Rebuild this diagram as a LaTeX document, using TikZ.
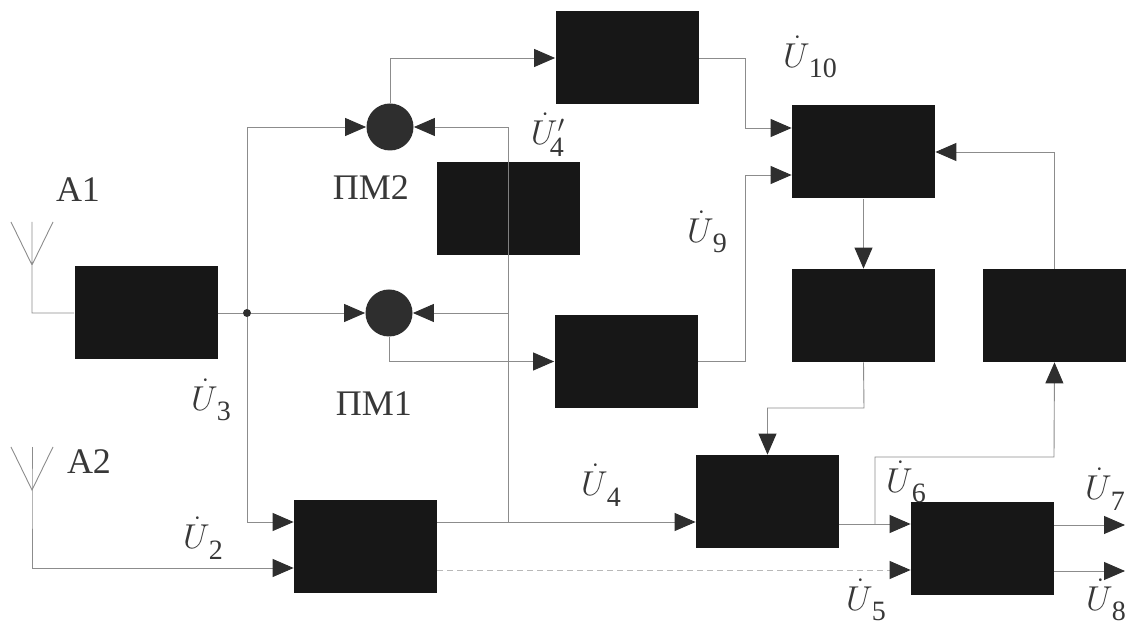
\documentclass[tikz,border=0pt]{standalone}
\usepackage{fontspec}
\setmainfont{Liberation Serif}
\usetikzlibrary{arrows.meta}
\definecolor{ink}{HTML}{171717}
\definecolor{wire}{HTML}{8C8C8C}
\definecolor{tipc}{HTML}{2E2E2E}
\newcommand{\Ud}[1]{$\dot{U}$\kern-.03em\raisebox{-.3em}{\fontsize{14}{15}\selectfont #1}}
\tikzset{
  blk/.style={draw=none,fill=ink,inner sep=0pt,minimum width=71.5pt,minimum height=46.5pt},
  mix/.style={circle,fill=tipc,draw=none,inner sep=0pt,minimum size=23.5pt},
  wr/.style={draw=wire,line width=.45pt},
  fl/.style={wr,-{Triangle[length=10.5pt,width=9pt,color=tipc]}},
  lab/.style={font=\fontsize{18}{20}\selectfont,text=black!78,inner sep=0pt},
  ghost/.style={draw=black!50,line width=.4pt},
  jdot/.style={circle,fill=tipc,draw=none,inner sep=0pt,minimum size=4pt},
}
\begin{document}
\begin{tikzpicture}[x=.5pt,y=-.5pt]
\useasboundingbox[fill=white] (0,0) rectangle (1132,625);
% blocks
\node[blk] (inA) at (146,313) {};
\node[blk] (top) at (627,58) {};
\node[blk] (cen) at (508.5,209) {};
\node[blk] (low) at (626,361.5) {};
\node[blk] (rtop) at (863.5,152) {};
\node[blk] (rmid) at (863.5,315.5) {};
\node[blk] (far) at (1054.5,315.5) {};
\node[blk] (bmid) at (767.5,501.5) {};
\node[blk] (brt) at (982.5,548.5) {};
\node[blk] (blf) at (365.5,546.5) {};
\node[mix] (pm2) at (390,127) {};
\node[mix] (pm1) at (389,313) {};
% junctions and free ends
\node[jdot] (j1) at (247,313) {};
\coordinate (j2) at (247,127);
\coordinate (j3) at (247,522);
\coordinate (k0) at (508,522);
\coordinate (k1) at (508,313);
\coordinate (k2) at (508,127);
\coordinate (m0) at (875,524);
\coordinate (o7) at (1125,525);
\coordinate (o8) at (1125,571);
% antennas
\coordinate (a1v) at (32,265);
\coordinate (a1t) at (32,222);
\coordinate (a1l) at (11,222);
\coordinate (a1r) at (53,222);
\coordinate (a2v) at (32,490);
\coordinate (a2t) at (32,447);
\coordinate (a2l) at (11,447);
\coordinate (a2r) at (53,447);
\draw[wr] (a1l) -- (a1v) -- (a1r) (a1t) -- (a1v) |- (inA.west);
\draw[fl] (a2t) -- (a2v) |- (blf.west |- 0,568);
\draw[wr] (a2l) -- (a2v) -- (a2r);
% left bus
\draw[wr] (inA.east) -- (j1);
\draw[fl] (j1) -- (pm1.west);
\draw[fl] (j1) -- (j3) -- (blf.west |- j3);
\draw[fl] (j1) -- (j2) -- (pm2.west);
% second bus
\draw[fl] (blf.east |- k0) -- (bmid.west |- k0);
\draw[wr] (k0) -- (cen.south -| k0);
\draw[fl] (cen.north -| k2) -- (k2) -- (pm2.east);
\draw[fl] (k1) -- (pm1.east);
\draw[ghost] (cen.south -| k0) -- (cen.north -| k0);
% mixers to filters
\draw[fl] (pm2.north) |- (top.west);
\draw[fl] (pm1.south) |- (low.west);
% filters to right top block
\draw[fl] (top.east) -- (745,58) |- (rtop.west |- 0,128);
\draw[fl] (low.east) -- (745,361.5) |- (rtop.west |- 0,175);
% feedback
\draw[fl] (far.north) |- (rtop.east);
\draw[fl] (rtop.south) -- (rmid.north);
\draw[fl] (rmid.south) -- (864,408) -| (bmid.north);
% bottom
\draw[fl] (bmid.east |- m0) -- (brt.west |- m0);
\draw[fl] (m0) |- (1054,457) -- (far.south);
\draw[fl,densely dashed,draw=black!28] (blf.east |- 0,570) -- (brt.west |- 0,570);
\draw[fl] (brt.east |- o7) -- (o7);
\draw[fl] (brt.east |- o8) -- (o8);
% labels
\node[lab] (tA1) at (78,190) {A1};
\node[lab] (tA2) at (89,462) {A2};
\node[lab] (tP2) at (371,188) {ПМ2};
\node[lab] (tP1) at (374,404) {ПМ1};
\node[lab] (u3) at (211,400) {\Ud{3}};
\node[lab] (u2) at (203,538) {\Ud{2}};
\node[lab] (u4) at (601,485) {\Ud{4}};
\node[lab] (u4p) at (548,135) {$\dot{U}'_{\!\raisebox{-.1em}{\fontsize{14}{15}\selectfont 4}}$};
\node[lab] (u9) at (707,232) {\Ud{9}};
\node[lab] (u10) at (810,57) {\Ud{10}};
\node[lab] (u6) at (906,482) {\Ud{6}};
\node[lab] (u5) at (866,600) {\Ud{5}};
\node[lab] (u7) at (1105,489) {\Ud{7}};
\node[lab] (u8) at (1106,600) {\Ud{8}};
\end{tikzpicture}
\end{document}
